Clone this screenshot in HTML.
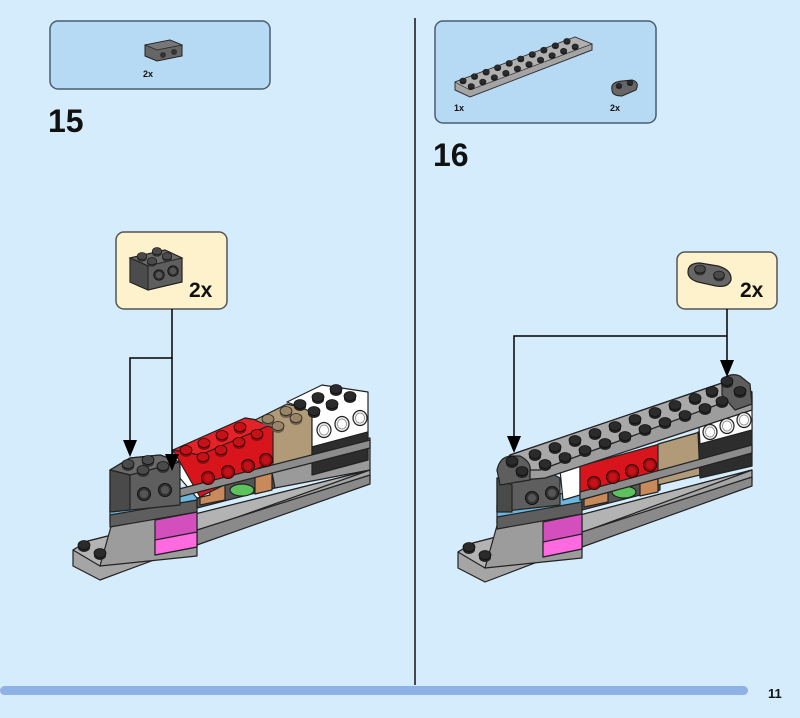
<!DOCTYPE html>
<html><head><meta charset="utf-8"><style>
html,body{margin:0;padding:0;background:#d4ecfb;}
svg{display:block;}
text{font-family:"Liberation Sans",sans-serif;font-weight:bold;fill:#111;}
</style></head><body>
<svg width="800" height="718" viewBox="0 0 800 718" xmlns="http://www.w3.org/2000/svg">
<defs>
<g id="st"><ellipse cx="0" cy="1.5" rx="6" ry="4.5" fill="#222"/><ellipse cx="0" cy="-1" rx="6" ry="4.5" fill="#2b2b2b" stroke="#111" stroke-width="0.8"/></g>
<g id="sg"><ellipse cx="0" cy="1.5" rx="6" ry="4.5" fill="#333"/><ellipse cx="0" cy="-1" rx="6" ry="4.5" fill="#4a4a4a" stroke="#111" stroke-width="0.8"/></g>
<g id="sr"><ellipse cx="0" cy="1.5" rx="6" ry="4.5" fill="#8a0c10"/><ellipse cx="0" cy="-1" rx="6" ry="4.5" fill="#c41218" stroke="#300" stroke-width="0.8"/></g>
<g id="sn"><ellipse cx="0" cy="1.5" rx="6" ry="4.5" fill="#6e5e48"/><ellipse cx="0" cy="-1" rx="6" ry="4.5" fill="#9a8566" stroke="#222" stroke-width="0.8"/></g>
<g id="fs"><circle r="6.5" fill="#333" stroke="#111"/><circle r="4" fill="#555"/></g>
<g id="fr"><circle r="6.5" fill="#9c0c12" stroke="#300"/><circle r="4" fill="#c41218"/></g>
<g id="fw"><ellipse rx="7" ry="7.5" fill="#eee" stroke="#222" stroke-width="1.2"/><ellipse rx="4.5" ry="5" fill="#fff" stroke="#888" stroke-width="0.8"/></g>
</defs>

<line x1="415" y1="18" x2="415" y2="685" stroke="#111" stroke-width="1.5"/>
<rect x="0" y="686" width="748" height="9" rx="4.5" fill="#8fb2e6"/>
<text x="768" y="698" font-size="13">11</text>

<rect x="50" y="21" width="220" height="68" rx="8" fill="#b7daf4" stroke="#4a5d70" stroke-width="1.5"/>
<polygon points="145,45 170,40 182,45 182,56 157,61 145,56" fill="#666" stroke="#222"/>
<polygon points="145,45 170,40 182,45 157,50" fill="#777" stroke="#222" stroke-width="0.7"/>
<circle cx="163" cy="55" r="3" fill="#333"/><circle cx="174" cy="52" r="3" fill="#333"/>
<text x="143" y="77" font-size="9">2x</text>
<text x="48" y="132" font-size="32">15</text>

<rect x="435" y="21" width="221" height="102" rx="8" fill="#b7daf4" stroke="#4a5d70" stroke-width="1.5"/>
<polygon points="455,82 575,37 592,44 592,50 470,97 455,90" fill="#a4a4a4" stroke="#333"/>
<polygon points="455,82 575,37 592,44 470,90" fill="#b0b0b0" stroke="#333" stroke-width="0.7"/>
<g transform="translate(463,81) scale(0.55)">
<use href="#st" x="0" y="0"/><use href="#st" x="21" y="-8"/><use href="#st" x="42" y="-16"/><use href="#st" x="63" y="-24"/><use href="#st" x="84" y="-32"/><use href="#st" x="105" y="-40"/><use href="#st" x="126" y="-48"/><use href="#st" x="147" y="-56"/><use href="#st" x="168" y="-64"/><use href="#st" x="189" y="-72"/>
<use href="#st" x="15" y="10"/><use href="#st" x="36" y="2"/><use href="#st" x="57" y="-6"/><use href="#st" x="78" y="-14"/><use href="#st" x="99" y="-22"/><use href="#st" x="120" y="-30"/><use href="#st" x="141" y="-38"/><use href="#st" x="162" y="-46"/><use href="#st" x="183" y="-54"/><use href="#st" x="204" y="-62"/>
</g>
<path d="M612,90 Q610,82 622,81 L632,80 Q640,82 636,90 L622,96 Q612,96 612,90z" fill="#666" stroke="#222"/>
<use href="#st" transform="translate(619,86) scale(0.5)"/><use href="#st" transform="translate(630,83) scale(0.5)"/>
<text x="454" y="111" font-size="9">1x</text>
<text x="610" y="111" font-size="9">2x</text>
<text x="433" y="166" font-size="32">16</text>

<rect x="116" y="232" width="111" height="77" rx="8" fill="#fdf2cc" stroke="#555" stroke-width="1.5"/>
<polygon points="130,258 165,250 182,258 182,282 148,290 130,282" fill="#5e5e5e" stroke="#222" stroke-width="1.2"/>
<polygon points="130,258 165,250 182,258 148,266" fill="#6a6a6a" stroke="#222"/>
<polygon points="130,258 148,266 148,290 130,282" fill="#4c4c4c" stroke="#222"/>
<use href="#sg" transform="translate(142,257) scale(0.8)"/><use href="#sg" transform="translate(157,252) scale(0.8)"/><use href="#sg" transform="translate(152,262) scale(0.8)"/><use href="#sg" transform="translate(167,257) scale(0.8)"/>
<use href="#fs" transform="translate(159,275) scale(0.8)"/><use href="#fs" transform="translate(173,271) scale(0.8)"/>
<text x="189" y="297" font-size="21">2x</text>

<rect x="677" y="252" width="100" height="57" rx="8" fill="#fdf2cc" stroke="#555" stroke-width="1.5"/>
<path d="M688,272 Q688,263 700,263 L718,266 Q732,270 731,280 Q728,288 716,286 L698,282 Q688,279 688,272z" fill="#666" stroke="#222" stroke-width="1.2"/>
<use href="#sg" transform="translate(700,270) scale(0.9)"/><use href="#sg" transform="translate(719,276) scale(0.9)"/>
<text x="740" y="297" font-size="21">2x</text>

<!-- LEFT MODEL -->
<g stroke="#222" stroke-width="1.2" stroke-linejoin="round">
<polygon points="73,550 88,541 370,470 370,480 100,580 73,566" fill="#a5a5a5"/>
<polygon points="73,550 88,541 370,470 100,566" fill="#b3b3b3"/>
<polygon points="100,566 115,512 160,505 197,515 197,556" fill="#9c9c9c"/>
<polygon points="197,530 370,475 370,484 197,545" fill="#8a8a8a"/>
<polygon points="155,520 197,512 197,547 155,555" fill="#d24fbd"/>
<polygon points="155,540 197,532 197,547 155,555" fill="#ff6ae0"/>
<polygon points="110,503 197,488 197,505 110,522" fill="#6cb7e0"/>
<polygon points="110,515 197,500 197,512 110,527" fill="#5e5e5e"/>
<polygon points="197,480 275,462 275,488 197,508" fill="#555"/>
<polygon points="200,480 225,475 225,500 200,505" fill="#c98a5b"/>
<ellipse cx="242" cy="490" rx="12" ry="6" fill="#5dc25d"/>
<polygon points="255,470 272,466 272,490 255,494" fill="#c98a5b"/>
<polygon points="270,462 370,438 370,470 275,488" fill="#9a9a9a"/>
<polygon points="173,450 197,445 210,495 197,498 173,470" fill="#fff"/>
<polygon points="173,450 245,418 275,423 275,460 200,497" fill="#d8151c"/>
<polygon points="173,450 245,418 275,423 200,455" fill="#e3232a"/>
<polygon points="255,420 287,404 312,410 312,462 273,472 273,428" fill="#b09a78"/>
<polygon points="287,402 322,385 368,392 368,432 312,447 312,412" fill="#fff"/>
<polygon points="312,447 368,432 368,460 312,475" fill="#2d2d2d"/>
<polygon points="175,490 370,440 370,448 175,498" fill="#8c8c8c"/>
<polygon points="110,470 130,458 160,455 180,462 180,505 110,512" fill="#5e5e5e"/>
<polygon points="110,470 130,458 160,455 180,462 130,475" fill="#6a6a6a"/>
<polygon points="110,470 130,475 130,510 110,512" fill="#4a4a4a"/>
</g>
<use href="#st" x="84" y="546"/><use href="#st" x="100" y="554"/>
<use href="#sg" x="128" y="465"/><use href="#sg" x="148" y="461"/><use href="#sg" x="143" y="471"/><use href="#sg" x="163" y="467"/>
<use href="#fs" x="144" y="494"/><use href="#fs" x="165" y="490"/>
<use href="#sr" x="186" y="451"/><use href="#sr" x="204" y="444"/><use href="#sr" x="222" y="436"/><use href="#sr" x="240" y="428"/>
<use href="#sr" x="203" y="458"/><use href="#sr" x="221" y="451"/><use href="#sr" x="239" y="443"/><use href="#sr" x="257" y="435"/>
<use href="#fr" x="208" y="478"/><use href="#fr" x="228" y="472"/><use href="#fr" x="248" y="466"/><use href="#fr" x="266" y="460"/>
<use href="#sn" x="268" y="420"/><use href="#sn" x="286" y="412"/><use href="#sn" x="278" y="427"/><use href="#sn" x="296" y="419"/>
<use href="#st" x="300" y="405"/><use href="#st" x="318" y="398"/><use href="#st" x="336" y="390"/><use href="#st" x="314" y="412"/><use href="#st" x="332" y="405"/><use href="#st" x="350" y="397"/>
<use href="#fw" x="324" y="430"/><use href="#fw" x="342" y="424"/><use href="#fw" x="360" y="418"/>

<!-- RIGHT MODEL -->
<g stroke="#222" stroke-width="1.2" stroke-linejoin="round">
<polygon points="458,552 473,543 752,470 752,480 485,582 458,568" fill="#a5a5a5"/>
<polygon points="458,552 473,543 752,470 485,568" fill="#b3b3b3"/>
<polygon points="485,568 500,515 545,508 582,518 582,558" fill="#9c9c9c"/>
<polygon points="582,532 752,477 752,486 582,547" fill="#8a8a8a"/>
<polygon points="543,522 582,514 582,549 543,557" fill="#d24fbd"/>
<polygon points="543,542 582,534 582,549 543,557" fill="#ff6ae0"/>
<polygon points="497,505 582,490 582,507 497,524" fill="#6cb7e0"/>
<polygon points="497,517 582,502 582,514 497,529" fill="#5e5e5e"/>
<polygon points="582,482 660,464 660,490 582,510" fill="#555"/>
<polygon points="584,482 608,477 608,502 584,507" fill="#c98a5b"/>
<ellipse cx="624" cy="492" rx="12" ry="6" fill="#5dc25d"/>
<polygon points="640,470 658,466 658,492 640,496" fill="#c98a5b"/>
<polygon points="560,470 580,466 580,495 563,500" fill="#fff"/>
<polygon points="580,466 660,444 660,478 580,500" fill="#d8151c"/>
<polygon points="658,444 700,432 700,475 658,485" fill="#b09a78"/>
<polygon points="698,432 752,418 752,466 700,478" fill="#2d2d2d"/>
<polygon points="698,410 752,396 752,430 700,444" fill="#fff"/>
<polygon points="580,492 752,445 752,453 580,500" fill="#8c8c8c"/>
<polygon points="497,478 545,470 560,478 560,505 497,512" fill="#5e5e5e"/>
<polygon points="497,478 512,485 512,512 497,512" fill="#4a4a4a"/>
<polygon points="497,470 510,455 725,382 752,392 752,410 545,478 500,482" fill="#9d9d9d"/>
<polygon points="497,470 510,455 725,382 752,392 540,470" fill="#a9a9a9"/>
<path d="M497,470 Q500,456 512,456 L520,456 Q532,462 530,472 L530,480 L500,485z" fill="#5e5e5e"/>
<path d="M722,380 Q730,372 740,376 L750,384 L752,404 L735,410 L722,395z" fill="#5e5e5e"/>
</g>
<use href="#st" x="469" y="548"/><use href="#st" x="485" y="556"/>
<use href="#st" x="512" y="462"/><use href="#st" x="522" y="472"/>
<use href="#st" x="727" y="382"/><use href="#st" x="740" y="392"/>
<g>
<use href="#st" x="535" y="455"/><use href="#st" x="555" y="448"/><use href="#st" x="575" y="441"/><use href="#st" x="595" y="434"/><use href="#st" x="615" y="427"/><use href="#st" x="635" y="420"/><use href="#st" x="655" y="413"/><use href="#st" x="675" y="406"/><use href="#st" x="695" y="399"/><use href="#st" x="712" y="392"/>
<use href="#st" x="545" y="465"/><use href="#st" x="565" y="458"/><use href="#st" x="585" y="451"/><use href="#st" x="605" y="444"/><use href="#st" x="625" y="437"/><use href="#st" x="645" y="430"/><use href="#st" x="665" y="423"/><use href="#st" x="685" y="416"/><use href="#st" x="705" y="409"/><use href="#st" x="722" y="402"/>
</g>
<use href="#fs" x="532" y="498"/><use href="#fs" x="552" y="493"/>
<use href="#fr" x="594" y="483"/><use href="#fr" x="613" y="477"/><use href="#fr" x="632" y="471"/><use href="#fr" x="650" y="465"/>
<use href="#fw" x="710" y="432"/><use href="#fw" x="727" y="426"/><use href="#fw" x="744" y="420"/>

<!-- arrows (drawn on top) -->
<polyline points="172,309 172,358 130,358 130,442" fill="none" stroke="#000" stroke-width="1.5"/>
<line x1="172" y1="358" x2="172" y2="456" stroke="#000" stroke-width="1.5"/>
<path d="M123,440 L137,440 L130,457z" fill="#000"/>
<path d="M165,454 L179,454 L172,471z" fill="#000"/>
<line x1="727" y1="309" x2="727" y2="362" stroke="#000" stroke-width="1.5"/>
<polyline points="727,336 514,336 514,438" fill="none" stroke="#000" stroke-width="1.5"/>
<path d="M720,360 L734,360 L727,377z" fill="#000"/>
<path d="M507,436 L521,436 L514,453z" fill="#000"/>
</svg>
</body></html>
